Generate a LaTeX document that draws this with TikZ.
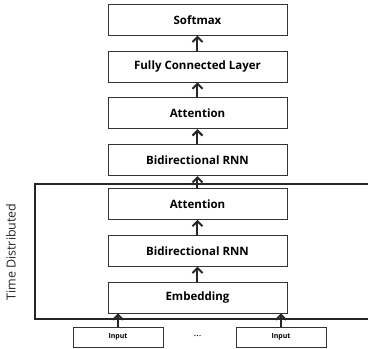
\documentclass[tikz,border=0pt]{standalone}
\usepackage{fontspec}
\setmainfont{Open Sans}
\usetikzlibrary{positioning, arrows.meta}

\begin{document}
\begin{tikzpicture}[x=1pt, y=-1pt, node distance=15pt,
    layer/.style={draw=black!80, line width=0.8pt, minimum width=179pt, minimum height=31pt, font=\bfseries\fontsize{11.5}{13}\selectfont},
    inbox/.style={draw=black!80, line width=0.6pt, minimum width=90pt, minimum height=20pt, font=\bfseries\fontsize{7}{8}\selectfont},
    up/.style={-{Straight Barb[length=5pt,width=10pt,line width=2pt]}, line width=2pt, black!85}]
            \useasboundingbox (0,0) rectangle (368,349);
            \node[layer] (emb) at (197.5,297.5) {Embedding};
            \node[layer] (rnnA) [above=of emb]  {Bidirectional RNN};
            \node[layer] (attA) [above=of rnnA] {Attention};
            \node[layer] (rnnB) [above=12pt of attA] {Bidirectional RNN};
            \node[layer] (attB) [above=of rnnB] {Attention};
            \node[layer] (fc)   [above=of attB] {Fully Connected Layer};
            \node[layer] (soft) [above=of fc]   {Softmax};
            \node[inbox] (in1) at (118,337) {Input};
            \node[inbox] (in2) at (281,337) {Input};
            \node (dots) at (197.5,336) {\fontsize{10}{11}\selectfont\dots};
            % time distributed frame
            \draw[line width=1.8pt, black!85] (372,184) -- (35,184) -- (35,319) -- (372,319);
            \node[rotate=90, font=\fontsize{12.5}{14}\selectfont, text=black!85] (td) at (11,252) {Time Distributed};
            \draw[up] (in1.north) -- (in1.north |- emb.south);
            \draw[up] (in2.north) -- (in2.north |- emb.south);
            \draw[up] (emb) -- (rnnA);
            \draw[up] (rnnA) -- (attA);
            \draw[up] (attA) -- (rnnB);
            \draw[up] (rnnB) -- (attB);
            \draw[up] (attB) -- (fc);
            \draw[up] (fc) -- (soft);
        \end{tikzpicture}
\end{document}
